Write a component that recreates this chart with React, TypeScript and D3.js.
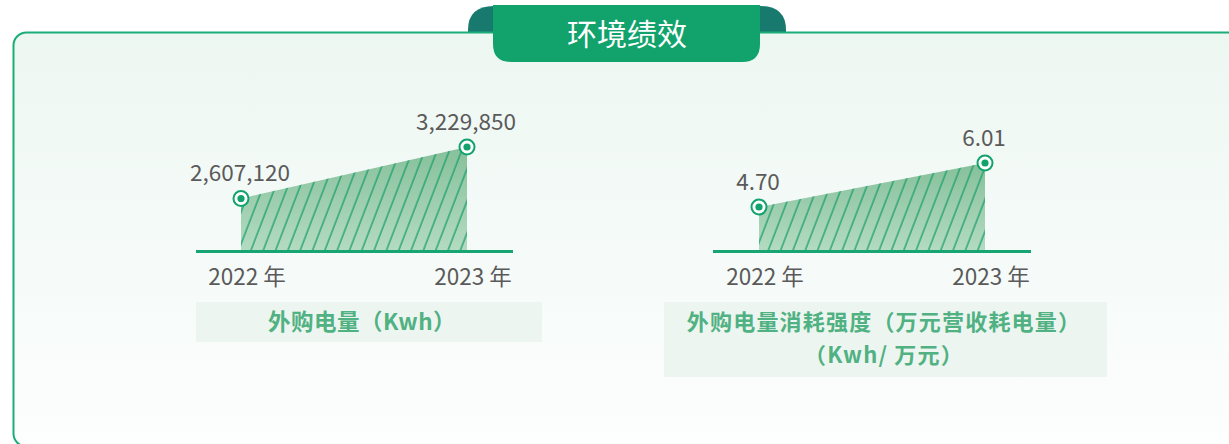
import React from "react";
import * as d3 from "d3";

const years = ["2022 年", "2023 年"];
const purchasedPower = [2607120, 3229850];
const powerIntensity = [4.7, 6.01];
const powerLabels = ["2,607,120", "3,229,850"];
const intensityLabels = ["4.70", "6.01"];
const title = "环境绩效";
const caption1 = ["外购电量（Kwh）"];
const caption2 = ["外购电量消耗强度（万元营收耗电量）", "（Kwh/ 万元）"];

const W = 1229;
const H = 444;
const GREEN = "#12a36d";
const DARK = "#187a6e";
const FONT = "'Noto Sans CJK SC', 'Noto Sans', sans-serif";

type ChartProps = {
  id: string;
  values: number[];
  labels: string[];
  domain: [number, number];
  xRange: [number, number];
  axisRange: [number, number];
  top: number;
  baseY: number;
};

function AreaChart({ id, values, labels, domain, xRange, axisRange, top, baseY }: ChartProps) {
  const x = d3.scalePoint<string>().domain(years).range(xRange);
  const y = d3.scaleLinear().domain(domain).range([baseY, top]);
  const data = years.map((yr, i) => ({ yr, v: values[i], label: labels[i] }));
  const area = d3
    .area<{ yr: string; v: number }>()
    .x((d) => x(d.yr)!)
    .y0(baseY)
    .y1((d) => y(d.v));
  const path = area(data) || "";
  return (
    <g>
      <defs>
        <linearGradient id={`fill-${id}`} x1="0" y1="0" x2="0" y2="1">
          <stop offset="0%" stopColor="#86c09a" />
          <stop offset="100%" stopColor="#b3dbc1" />
        </linearGradient>
        <pattern
          id={`hatch-${id}`}
          patternUnits="userSpaceOnUse"
          width={11.5}
          height={20}
          patternTransform="rotate(21)"
        >
          <line x1={2} y1={0} x2={2} y2={20} stroke="#1a9f6c" strokeWidth={1.3} />
        </pattern>
      </defs>
      <path d={path} fill={`url(#fill-${id})`} />
      <path d={path} fill={`url(#hatch-${id})`} />
      <line x1={axisRange[0]} x2={axisRange[1]} y1={baseY + 0.5} y2={baseY + 0.5} stroke="#17a673" strokeWidth={3} />
      {data.map((d) => (
        <g key={d.yr}>
          <circle cx={x(d.yr)} cy={y(d.v)} r={7.5} fill="#fff" stroke={GREEN} strokeWidth={2} />
          <circle cx={x(d.yr)} cy={y(d.v)} r={3.6} fill={GREEN} />
          <text
            x={x(d.yr)! - 1}
            y={y(d.v) - 17}
            textAnchor="middle"
            fontSize={22.5}
            fill="#5a5a5a"
            fontFamily={FONT}
            fontWeight={400}
          >
            {d.label}
          </text>
          <text
            x={x(d.yr)! + 6}
            y={baseY + 34}
            textAnchor="middle"
            fontSize={22.5}
            fill="#5a5a5a"
            fontFamily={FONT}
            fontWeight={400}
          >
            {d.yr}
          </text>
        </g>
      ))}
    </g>
  );
}

export default function App() {
  return (
    <svg
      width={W}
      height={H}
      style={{ position: "absolute", left: 0, top: 0, display: "block" }}
      fontFamily={FONT}
    >
      <defs>
        <linearGradient id="cardBg" x1="0" y1="0" x2="0" y2="1">
          <stop offset="0%" stopColor="#edf7f2" />
          <stop offset="60%" stopColor="#f6fbf9" />
          <stop offset="100%" stopColor="#fdfefe" />
        </linearGradient>
      </defs>
      <rect x={0} y={0} width={W} height={H} fill="#fff" />
      {/* title tab back */}
      <path d="M468,34 L468,30 Q468,6 494,6 L760,6 Q786,6 786,30 L786,34 Z" fill={DARK} />
      {/* card */}
      <rect x={13.5} y={32.5} width={1240} height={414} rx={13} fill="url(#cardBg)" stroke="#1aad78" strokeWidth={2} />
      {/* title pill */}
      <path d="M493,5 L760,5 L760,44 Q760,62 742,62 L511,62 Q493,62 493,44 Z" fill={GREEN} />
      <text x={627} y={45} textAnchor="middle" fontSize={30} fill="#fff" fontWeight={400}>
        {title}
      </text>

      <AreaChart
        id="a"
        values={purchasedPower}
        labels={powerLabels}
        domain={[1972000, 3229850]}
        xRange={[241, 467]}
        axisRange={[196, 513]}
        top={147}
        baseY={251}
      />
      <AreaChart
        id="b"
        values={powerIntensity}
        labels={intensityLabels}
        domain={[3.39, 6.01]}
        xRange={[759, 985]}
        axisRange={[713, 1031]}
        top={163}
        baseY={251}
      />

      {/* captions */}
      <rect x={196} y={302} width={346} height={40} fill="#edf5f0" />
      {caption1.map((t, i) => (
        <text key={t} x={362} y={330 + i * 33} textAnchor="middle" fontSize={22.5} fontWeight={700} fill="#50b182" letterSpacing={0.5}>
          {t}
        </text>
      ))}
      <rect x={664} y={302} width={443} height={75} fill="#edf5f0" />
      {caption2.map((t, i) => (
        <text key={t} x={884} y={330 + i * 33} textAnchor="middle" fontSize={22} fontWeight={700} fill="#50b182" letterSpacing={1.2}>
          {t}
        </text>
      ))}
    </svg>
  );
}
